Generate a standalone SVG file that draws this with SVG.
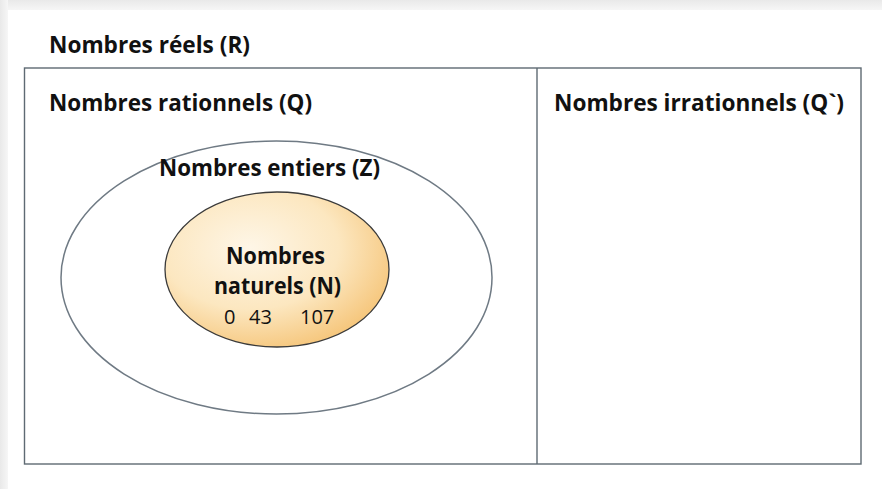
<svg xmlns="http://www.w3.org/2000/svg" width="882" height="489" viewBox="0 0 882 489">
  <style>
    .lbl { font-family: "Open Sans", "Liberation Sans", sans-serif; font-weight: bold; font-size: 24px; fill: #111; }
    .num { font-family: "Open Sans", "Liberation Sans", sans-serif; font-weight: normal; font-size: 20px; fill: #111; }
    .box { fill: none; stroke: #5e6a73; stroke-width: 1.4; }
  </style>
  <defs>
    <radialGradient id="gN" cx="38%" cy="36%" r="72%">
      <stop offset="0" stop-color="#fef6e7"/>
      <stop offset="0.55" stop-color="#fce7c0"/>
      <stop offset="1" stop-color="#f5c273"/>
    </radialGradient>
    <linearGradient id="gTop" x1="0" y1="0" x2="0" y2="1">
      <stop offset="0" stop-color="#e9e9e9"/>
      <stop offset="1" stop-color="#f6f6f6"/>
    </linearGradient>
    <linearGradient id="gLeft" x1="0" y1="0" x2="1" y2="0">
      <stop offset="0" stop-color="#e9e9e9"/>
      <stop offset="1" stop-color="#f6f6f6"/>
    </linearGradient>
  </defs>

  <rect x="0" y="0" width="882" height="489" fill="#ffffff"/>
  <rect x="0" y="0" width="882" height="10" fill="url(#gTop)"/>
  <rect x="0" y="0" width="8" height="489" fill="url(#gLeft)"/>

  <g id="reels">
    <rect class="box" x="24.5" y="68" width="836.5" height="396"/>
    <text class="lbl" x="49" y="53" textLength="201" lengthAdjust="spacingAndGlyphs">Nombres réels (R)</text>
  </g>

  <g id="rationnels">
    <line class="box" x1="537" y1="68" x2="537" y2="464"/>
    <text class="lbl" x="49" y="111" textLength="263" lengthAdjust="spacingAndGlyphs">Nombres rationnels (Q)</text>
  </g>

  <g id="irrationnels">
    <text class="lbl" x="554" y="111" textLength="290" lengthAdjust="spacingAndGlyphs">Nombres irrationnels (Q`)</text>
  </g>

  <g id="entiers">
    <ellipse cx="276.5" cy="277.5" rx="215.5" ry="136.5" fill="none" stroke="#6f7a84" stroke-width="1.5"/>
    <text class="lbl" x="159" y="176" textLength="221" lengthAdjust="spacingAndGlyphs">Nombres entiers (Z)</text>
  </g>

  <g id="naturels">
    <ellipse cx="277" cy="269.5" rx="112" ry="77.5" fill="url(#gN)" stroke="#3a3a3a" stroke-width="1.3"/>
    <text class="lbl" x="226" y="264" textLength="99" lengthAdjust="spacingAndGlyphs">Nombres</text>
    <text class="lbl" x="214" y="294" textLength="127" lengthAdjust="spacingAndGlyphs">naturels (N)</text>
    <text class="num" y="324"><tspan x="224">0</tspan><tspan x="249">43</tspan><tspan x="300">107</tspan></text>
  </g>

  <g id="connectors"/>
</svg>
